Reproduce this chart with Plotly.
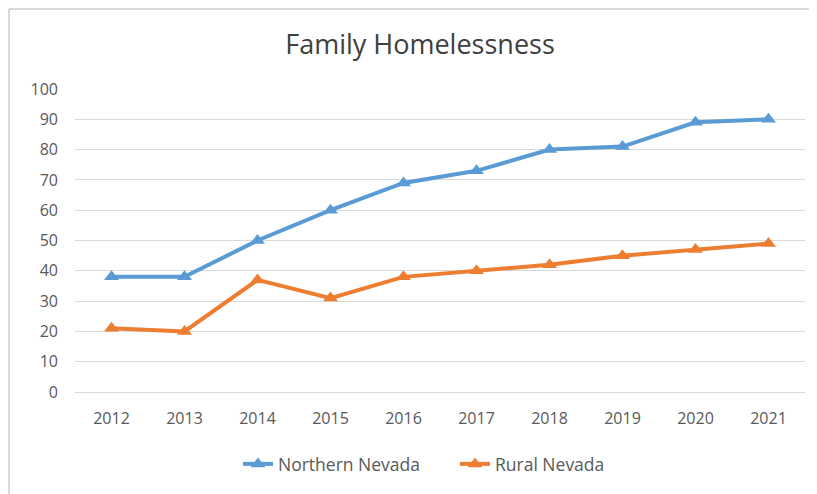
import plotly.graph_objects as go

years = ["2012", "2013", "2014", "2015", "2016", "2017", "2018", "2019", "2020", "2021"]
northern_nevada = [38, 38, 50, 60, 69, 73, 80, 81, 89, 90]
rural_nevada = [21, 20, 37, 31, 38, 40, 42, 45, 47, 49]
y_ticks = [0, 10, 20, 30, 40, 50, 60, 70, 80, 90, 100]

W, H = 817, 494
OFF = 8  # page body margin offset
ml, mr, mt, mb = 75 - OFF, 20, 89 - OFF, H - (392 - OFF)
pw = W - ml - mr
ph = H - mt - mb

fig = go.Figure()
fig.add_trace(go.Scatter(
    x=years, y=northern_nevada, name="Northern Nevada", mode="lines+markers",
    line=dict(color="#5B9BD5", width=4),
    marker=dict(symbol="triangle-up", size=13, color="#5B9BD5"),
))
fig.add_trace(go.Scatter(
    x=years, y=rural_nevada, name="Rural Nevada", mode="lines+markers",
    line=dict(color="#ED7D31", width=4),
    marker=dict(symbol="triangle-up", size=13, color="#ED7D31"),
))

def px_x(p):
    return (p - OFF - ml) / pw

def px_y(p):
    return (H - mb - (p - OFF)) / ph

fig.update_layout(
    width=W, height=H,
    margin=dict(l=ml, r=mr, t=mt, b=mb),
    paper_bgcolor="white", plot_bgcolor="white",
    font=dict(family="Open Sans, Calibri, sans-serif", color="#595959", size=16),
    title=dict(text="Family Homelessness", x=(420 - OFF) / W, xref="container", xanchor="center",
               y=1 - (45 - OFF) / H, yanchor="middle",
               font=dict(size=27, color="#404040")),
    xaxis=dict(type="category", showgrid=False, showline=True, linecolor="#d9d9d9",
               linewidth=1, ticks="", tickfont=dict(size=16, color="#595959"),
               range=[-0.5, len(years) - 0.5], ticklabelstandoff=12),
    yaxis=dict(range=[0, 100], tickvals=y_ticks, showgrid=True, gridcolor="#d9d9d9",
               gridwidth=1, zeroline=False, showline=False, ticks="",
               tickfont=dict(size=16, color="#595959"), ticklabelstandoff=16),
    legend=dict(orientation="h", x=px_x(238), xanchor="left", y=px_y(464), yanchor="middle",
                font=dict(size=17.5, color="#595959"), entrywidth=172),
    showlegend=True,
    shapes=[
        dict(type="line", xref="paper", yref="paper", x0=px_x(9), x1=px_x(W + 20),
             y0=px_y(9), y1=px_y(9), line=dict(color="#d9d9d9", width=2)),
        dict(type="line", xref="paper", yref="paper", x0=px_x(9), x1=px_x(9),
             y0=px_y(9), y1=px_y(H + 20), line=dict(color="#d9d9d9", width=2)),
    ],
)

fig.write_html("out.html")
